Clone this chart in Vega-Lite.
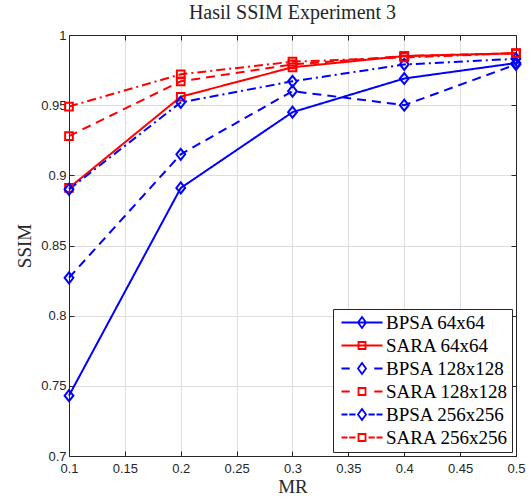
{
  "$schema": "https://vega.github.io/schema/vega-lite/v6.json",
  "autosize": {"type": "none"},
  "padding": {"left": 69, "top": 35, "right": 16, "bottom": 43},
  "width": 447,
  "height": 421,
  "background": "white",
  "title": {"text": "Hasil SSIM Experiment 3", "font": "Liberation Serif", "fontSize": 20, "fontWeight": "normal", "color": "#262626", "offset": 6},
  "config": {"view": {"stroke": null}},
  "data": {"values": [
    {"mr": 0.1, "ssim": 0.743, "series": "BPSA 64x64"},
    {"mr": 0.2, "ssim": 0.891, "series": "BPSA 64x64"},
    {"mr": 0.3, "ssim": 0.945, "series": "BPSA 64x64"},
    {"mr": 0.4, "ssim": 0.969, "series": "BPSA 64x64"},
    {"mr": 0.5, "ssim": 0.980, "series": "BPSA 64x64"},
    {"mr": 0.1, "ssim": 0.891, "series": "SARA 64x64"},
    {"mr": 0.2, "ssim": 0.956, "series": "SARA 64x64"},
    {"mr": 0.3, "ssim": 0.977, "series": "SARA 64x64"},
    {"mr": 0.4, "ssim": 0.985, "series": "SARA 64x64"},
    {"mr": 0.5, "ssim": 0.987, "series": "SARA 64x64"},
    {"mr": 0.1, "ssim": 0.827, "series": "BPSA 128x128"},
    {"mr": 0.2, "ssim": 0.915, "series": "BPSA 128x128"},
    {"mr": 0.3, "ssim": 0.960, "series": "BPSA 128x128"},
    {"mr": 0.4, "ssim": 0.950, "series": "BPSA 128x128"},
    {"mr": 0.5, "ssim": 0.979, "series": "BPSA 128x128"},
    {"mr": 0.1, "ssim": 0.928, "series": "SARA 128x128"},
    {"mr": 0.2, "ssim": 0.967, "series": "SARA 128x128"},
    {"mr": 0.3, "ssim": 0.979, "series": "SARA 128x128"},
    {"mr": 0.4, "ssim": 0.985, "series": "SARA 128x128"},
    {"mr": 0.5, "ssim": 0.987, "series": "SARA 128x128"},
    {"mr": 0.1, "ssim": 0.890, "series": "BPSA 256x256"},
    {"mr": 0.2, "ssim": 0.952, "series": "BPSA 256x256"},
    {"mr": 0.3, "ssim": 0.967, "series": "BPSA 256x256"},
    {"mr": 0.4, "ssim": 0.979, "series": "BPSA 256x256"},
    {"mr": 0.5, "ssim": 0.983, "series": "BPSA 256x256"},
    {"mr": 0.1, "ssim": 0.949, "series": "SARA 256x256"},
    {"mr": 0.2, "ssim": 0.972, "series": "SARA 256x256"},
    {"mr": 0.3, "ssim": 0.981, "series": "SARA 256x256"},
    {"mr": 0.4, "ssim": 0.984, "series": "SARA 256x256"},
    {"mr": 0.5, "ssim": 0.987, "series": "SARA 256x256"}
  ]},
  "resolve": {"axis": {"x": "independent", "y": "independent"}},
  "layer": [
    {
      "mark": {"type": "line", "strokeWidth": 2},
      "encoding": {
        "x": {"field": "mr", "type": "quantitative",
          "scale": {"domain": [0.1, 0.5], "nice": false, "zero": false},
          "axis": {"orient": "bottom", "values": [0.1, 0.15, 0.2, 0.25, 0.3, 0.35, 0.4, 0.45, 0.5], "format": ".2~f", "labelFlush": false,
            "labelFont": "Liberation Sans", "labelFontSize": 13, "labelColor": "#262626",
            "domainColor": "#262626", "tickColor": "#262626", "tickSize": -5, "labelPadding": 11,
            "grid": true, "gridColor": "#dedede", "gridWidth": 1,
            "title": "MR", "titleFont": "Liberation Serif", "titleFontSize": 19, "titleFontWeight": "normal", "titleColor": "#262626", "titlePadding": 2}},
        "y": {"field": "ssim", "type": "quantitative",
          "scale": {"domain": [0.7, 1], "nice": false, "zero": false},
          "axis": {"orient": "left", "values": [0.7, 0.75, 0.8, 0.85, 0.9, 0.95, 1], "format": ".2~f", "labelFlush": false,
            "labelFont": "Liberation Sans", "labelFontSize": 13, "labelColor": "#262626",
            "domainColor": "#262626", "tickColor": "#262626", "tickSize": -5, "labelPadding": 8,
            "grid": true, "gridColor": "#dedede", "gridWidth": 1,
            "title": "SSIM", "titleFont": "Liberation Serif", "titleFontSize": 19, "titleFontWeight": "normal", "titleColor": "#262626", "titlePadding": 6}},
        "color": {"field": "series", "type": "nominal",
          "scale": {"domain": ["BPSA 64x64", "SARA 64x64", "BPSA 128x128", "SARA 128x128", "BPSA 256x256", "SARA 256x256"],
                    "range": ["#0000ff", "#ff0000", "#0000ff", "#ff0000", "#0000ff", "#ff0000"]},
          "legend": {"title": null, "orient": "bottom-right", "offset": 4,
            "labelFont": "Liberation Serif", "labelFontSize": 19, "labelColor": "#000000", "labelLimit": 300,
            "fillColor": "white", "strokeColor": "#262626", "padding": 4, "rowPadding": 3, "labelOffset": 30,
            "symbolSize": 100, "symbolStrokeWidth": 1.8,
            "encode": {"symbols": {"update": {
              "shape": {"signal": "datum.value === 'BPSA 64x64' ? 'M-1,0L7.2,0M3.1,-1.1L3.9,0L3.1,1.1L2.3,0Z' : datum.value === 'SARA 64x64' ? 'M-1,0L7.2,0M2.4,-0.7L3.8,-0.7L3.8,0.7L2.4,0.7Z' : datum.value === 'BPSA 128x128' ? 'M-1,0L0.65,0M5.55,0L7.2,0M3.1,-1.1L3.9,0L3.1,1.1L2.3,0Z' : datum.value === 'SARA 128x128' ? 'M-1,0L0.65,0M5.55,0L7.2,0M2.4,-0.7L3.8,-0.7L3.8,0.7L2.4,0.7Z' : datum.value === 'BPSA 256x256' ? 'M-1,0L0.2,0M0.55,0L1.8,0M4.4,0L5.65,0M6,0L7.2,0M3.1,-1.1L3.9,0L3.1,1.1L2.3,0Z' : 'M-1,0L0.2,0M0.55,0L1.8,0M4.4,0L5.65,0M6,0L7.2,0M2.4,-0.7L3.8,-0.7L3.8,0.7L2.4,0.7Z'"},
              "size": {"value": 100},
              "strokeDash": {"value": []},
              "fill": {"value": "transparent"},
              "strokeWidth": {"value": 1.8},
              "opacity": {"value": 1}
            }}}}},
        "strokeDash": {"field": "series", "type": "nominal",
          "scale": {"domain": ["SARA 64x64", "BPSA 64x64", "SARA 128x128", "BPSA 128x128", "SARA 256x256", "BPSA 256x256"],
                    "range": [[1, 0], [1, 0], [9, 6], [9, 6], [9, 4, 2, 4], [9, 4, 2, 4]]},
          "legend": null}
      }
    },
    {
      "mark": {"type": "point", "filled": false, "size": 121, "strokeWidth": 2, "opacity": 1},
      "encoding": {
        "x": {"field": "mr", "type": "quantitative",
          "axis": {"orient": "top", "values": [0.1, 0.15, 0.2, 0.25, 0.3, 0.35, 0.4, 0.45, 0.5], "labels": false, "grid": false, "title": null,
            "domainColor": "#262626", "tickColor": "#262626", "tickSize": -5}},
        "y": {"field": "ssim", "type": "quantitative",
          "axis": {"orient": "right", "values": [0.7, 0.75, 0.8, 0.85, 0.9, 0.95, 1], "labels": false, "grid": false, "title": null,
            "domainColor": "#262626", "tickColor": "#262626", "tickSize": -5}},
        "color": {"field": "series", "type": "nominal"},
        "shape": {"field": "series", "type": "nominal",
          "scale": {"domain": ["BPSA 256x256", "SARA 256x256", "BPSA 128x128", "SARA 128x128", "BPSA 64x64", "SARA 64x64"],
                    "range": ["M0,-1L0.8,0L0,1L-0.8,0Z", "M-0.7,-0.7L0.7,-0.7L0.7,0.7L-0.7,0.7Z", "M0,-1L0.8,0L0,1L-0.8,0Z", "M-0.7,-0.7L0.7,-0.7L0.7,0.7L-0.7,0.7Z", "M0,-1L0.8,0L0,1L-0.8,0Z", "M-0.7,-0.7L0.7,-0.7L0.7,0.7L-0.7,0.7Z"]},
          "legend": null}
      }
    }
  ]
}
